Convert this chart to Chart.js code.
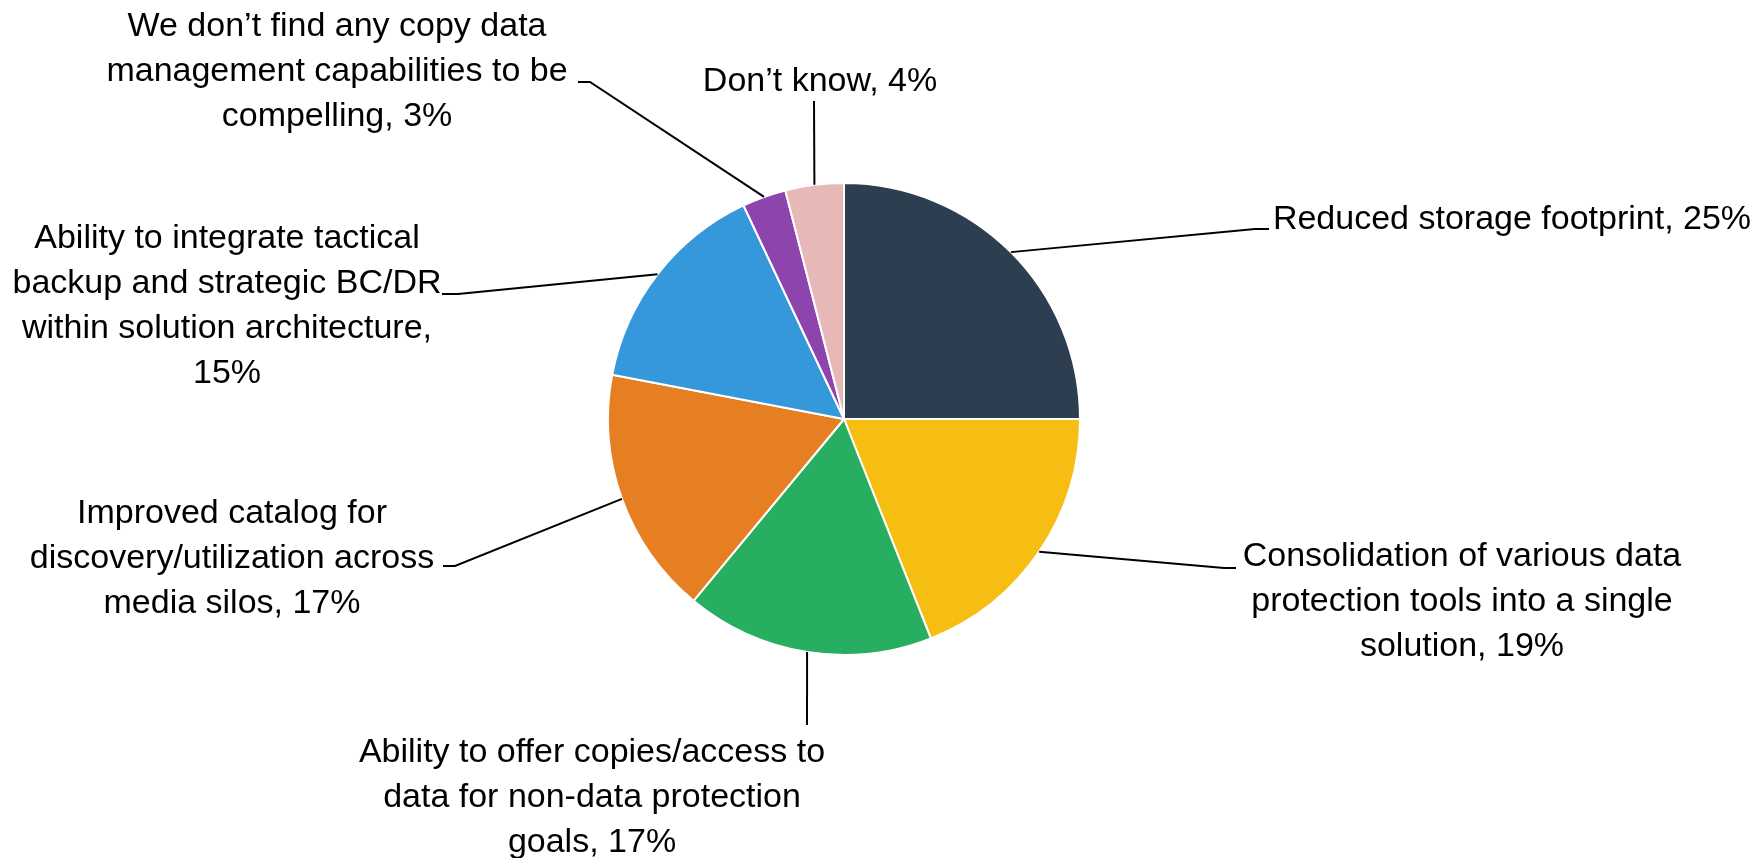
<!DOCTYPE html>
<html>
<head>
<meta charset="utf-8">
<script src="https://cdn.jsdelivr.net/npm/chart.js@4"></script>
<style>
  html, body { margin: 0; padding: 0; background: #fff; }
  #wrap { width: 1762px; height: 858px; position: relative; }
</style>
</head>
<body>
<div id="wrap"><canvas id="myChart"></canvas></div>
<script>
// Données du camembert
const categories = [
    "Reduced storage footprint",
    "Consolidation of various data protection tools into a single solution",
    "Ability to offer copies/access to data for non-data protection goals",
    "Improved catalog for discovery/utilization across media silos",
    "Ability to integrate tactical backup and strategic BC/DR within solution architecture,",
    "We don’t find any copy data management capabilities to be compelling",
    "Don’t know"
];
const values = [25, 19, 17, 17, 15, 3, 4];
const colors = ["#2c3e50", "#f6be12", "#27ae60", "#e67e22", "#3498db", "#8e44ad", "#e6b9b8"];

// Placement des étiquettes (relatif au centre du camembert)
const labelLayout = [
    { dx: 668, dy: -190, maxW: 560, path: [[411, -190], [425, -190]] },
    { dx: 618, dy: 147, maxW: 455, path: [[380, 149], [392, 149]] },
    { dx: -252, dy: 343, maxW: 500, path: [[-37, 306]] },
    { dx: -612, dy: 104, maxW: 440, path: [[-389, 147], [-401, 147]] },
    { dx: -617, dy: -171, maxW: 450, path: [[-386, -125], [-402, -125]] },
    { dx: -507, dy: -383, maxW: 480, path: [[-254, -337], [-266, -337]] },
    { dx: -24, dy: -328, maxW: 300, path: [[-30, -318]] }
];
const labelFont = "34px 'Liberation Sans', Arial, sans-serif";
const lineHeight = 45;

function labelText(i) {
    const sep = categories[i].endsWith(",") ? " " : ", ";
    return categories[i] + sep + values[i] + "%";
}

function wrap(ctx, text, maxW) {
    const words = text.split(" ");
    const lines = [];
    let cur = "";
    words.forEach(w => {
        const test = cur ? cur + " " + w : w;
        if (cur && ctx.measureText(test).width > maxW) {
            lines.push(cur);
            cur = w;
        } else {
            cur = test;
        }
    });
    if (cur) lines.push(cur);
    return lines;
}

// Plugin : lignes de rappel + étiquettes
const leaderLabels = {
    id: "leaderLabels",
    afterDatasetsDraw(chart) {
        const ctx = chart.ctx;
        const meta = chart.getDatasetMeta(0);
        ctx.save();
        ctx.font = labelFont;
        ctx.textAlign = "center";
        ctx.textBaseline = "alphabetic";
        ctx.fillStyle = "#000";
        ctx.strokeStyle = "#000";
        ctx.lineWidth = 2;
        meta.data.forEach((arc, i) => {
            const p = arc.getProps(["x", "y", "startAngle", "endAngle", "outerRadius"], true);
            const mid = (p.startAngle + p.endAngle) / 2;
            const L = labelLayout[i];
            ctx.beginPath();
            ctx.moveTo(p.x + Math.cos(mid) * p.outerRadius, p.y + Math.sin(mid) * p.outerRadius);
            L.path.forEach(pt => ctx.lineTo(p.x + pt[0], p.y + pt[1]));
            ctx.stroke();
            const lines = wrap(ctx, labelText(i), L.maxW);
            lines.forEach((t, k) => ctx.fillText(t, p.x + L.dx, p.y + L.dy + k * lineHeight));
        });
        ctx.restore();
    }
};

drawChart();
function drawChart() {
    const config = {
        type: "pie",
        data: {
            labels: categories,
            datasets: [{
                data: values,
                backgroundColor: colors,
                borderColor: "#fff",
                borderWidth: 2
            }]
        },
        options: {
            responsive: true,
            maintainAspectRatio: false,
            animation: false,
            layout: { padding: { left: 607, right: 681, top: 182, bottom: 202 } },
            plugins: {
                legend: { display: false },
                tooltip: { enabled: false }
            }
        },
        plugins: [leaderLabels]
    };
    const myChart = new Chart(document.getElementById("myChart"), config);
}
</script>
</body>
</html>
